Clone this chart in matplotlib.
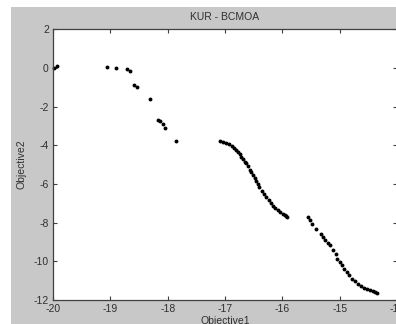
import matplotlib.pyplot as plt
import matplotlib.patches as patches

plt.rcParams['font.family'] = ['Liberation Sans', 'DejaVu Sans']

# pareto front points
x1 = [-19.98, -19.93, -19.05, -18.90, -18.71, -18.65, -18.58, -18.54, -18.30,
      -18.16, -18.14, -18.09, -18.05, -17.85]
y1 = [0.00, 0.10, 0.03, 0.00, -0.03, -0.14, -0.86, -0.98, -1.58,
      -2.69, -2.76, -2.90, -3.10, -3.76]

x2 = [-17.08, -17.03, -16.98, -16.93, -16.88, -16.84, -16.80, -16.77, -16.74,
      -16.72, -16.68, -16.65, -16.63, -16.60, -16.57, -16.54, -16.51, -16.48,
      -16.46, -16.43, -16.40, -16.36, -16.32, -16.28, -16.24, -16.20, -16.16,
      -16.12, -16.08, -16.04, -15.99, -15.96, -15.93, -15.91]
y2 = [-3.76, -3.82, -3.86, -3.94, -4.04, -4.12, -4.22, -4.32, -4.45,
      -4.58, -4.72, -4.84, -4.92, -5.08, -5.26, -5.39, -5.52, -5.70,
      -5.87, -6.01, -6.16, -6.34, -6.52, -6.67, -6.81, -6.98, -7.13,
      -7.22, -7.33, -7.44, -7.54, -7.60, -7.64, -7.69]

x3 = [-15.55, -15.52, -15.49, -15.41, -15.33, -15.29, -15.26, -15.21, -15.17,
      -15.11, -15.07, -15.05, -15.00, -14.96, -14.92, -14.88, -14.84, -14.79,
      -14.73, -14.68, -14.63, -14.58, -14.53, -14.47, -14.41, -14.38, -14.35]
y3 = [-7.69, -7.88, -8.05, -8.32, -8.57, -8.72, -8.88, -9.03, -9.17,
      -9.39, -9.62, -9.86, -10.02, -10.20, -10.38, -10.55, -10.72, -10.89,
      -11.02, -11.15, -11.26, -11.36, -11.43, -11.50, -11.55, -11.58, -11.62]

xticks = [-20, -19, -18, -17, -16, -15, -14]
yticks = [-12, -10, -8, -6, -4, -2, 0, 2]

gray = '#c8c8c8'
fig = plt.figure(figsize=(3.96, 3.24), dpi=100, facecolor='white')
fig.patches.append(patches.Rectangle((11 / 396, 0), 1, 1 - 7 / 324,
                                     transform=fig.transFigure,
                                     facecolor=gray, edgecolor='none', zorder=-10))

ax = fig.add_axes([53 / 396, 1 - 300 / 324, 344 / 396, 270.7 / 324])
ax.plot(x1 + x2 + x3, y1 + y2 + y3, 'o', color='black', markersize=2.8,
        markeredgewidth=0, clip_on=False)
ax.set_xlim(-20, -14)
ax.set_ylim(-12, 2)
ax.set_xticks(xticks)
ax.set_yticks(yticks)
ax.set_xticklabels([str(t) for t in xticks])
ax.set_yticklabels([str(t) for t in yticks])
ax.tick_params(direction='in', top=True, right=True, length=3, width=0.8,
               labelsize=7.5, colors='#404040', labelcolor='#303030', pad=3)
for s in ax.spines.values():
    s.set_color('#404040')
    s.set_linewidth(0.9)
ax.set_title('KUR - BCMOA', fontsize=7.5, color='#303030', pad=7)
ax.set_xlabel('Objective1', fontsize=7.5, color='#303030', labelpad=1)
ax.set_ylabel('Objective2', fontsize=7.5, color='#303030', labelpad=5)

plt.savefig('out.png', dpi=100, facecolor=fig.get_facecolor())
